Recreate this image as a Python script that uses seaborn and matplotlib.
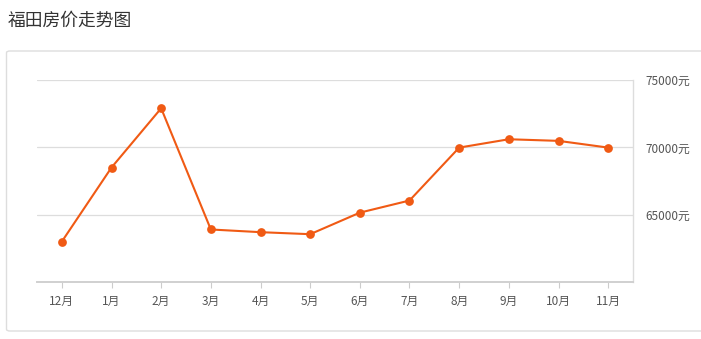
import matplotlib
matplotlib.use("Agg")
import matplotlib.pyplot as plt
import seaborn as sns
import pandas as pd
from matplotlib.patches import FancyBboxPatch

sns.set_theme(style="white")
plt.rcParams['font.family'] = ['Noto Sans CJK SC', 'DejaVu Sans']

months = ["12月", "1月", "2月", "3月", "4月", "5月", "6月", "7月", "8月", "9月", "10月", "11月"]
prices = [63000, 68500, 72900, 63900, 63700, 63550, 65150, 66050, 69980, 70600, 70480, 69980]
y_ticks = [65000, 70000, 75000]
y_tick_labels = ["65000元", "70000元", "75000元"]
title = "福田房价走势图"

df = pd.DataFrame({"month": months, "price": prices})

W, H = 701, 339
fig = plt.figure(figsize=(W / 100, H / 100), dpi=100)

# outer panel box
box = FancyBboxPatch((6.5 / W, (H - 331) / H), (W + 10) / W, (331 - 51) / H,
                     boxstyle="round,pad=0,rounding_size=0.005",
                     transform=fig.transFigure, facecolor="white",
                     edgecolor="#dddddd", linewidth=1.0, zorder=-5)
fig.patches.append(box)

fig.text(8 / W, 1 - 21 / H, title, fontsize=12.8, color="#333333", va="center", ha="left")

left, right, top, bottom = 37, 633, 80, 282
ax = fig.add_axes([left / W, 1 - bottom / H, (right - left) / W, (bottom - top) / H])
ax.set_facecolor("none")
ax.set_zorder(2)

color = "#f05a14"
sns.lineplot(data=df, x="month", y="price", ax=ax, color=color, linewidth=1.5,
             marker="o", markersize=6.3, markeredgewidth=0, sort=False)

ax.set_xlim(-0.5, len(months) - 0.5)
ax.set_ylim(60000, 75000)
ax.yaxis.tick_right()
ax.set_yticks(y_ticks)
ax.set_yticklabels(y_tick_labels)
for y in y_ticks:
    ax.axhline(y, color="#dddddd", linewidth=0.9, zorder=0)

ax.set_xlabel("")
ax.set_ylabel("")
for s in ["top", "left"]:
    ax.spines[s].set_visible(False)
ax.spines["right"].set_color("#dddddd")
ax.spines["right"].set_linewidth(1.0)
ax.spines["bottom"].set_color("#d0d0d0")
ax.spines["bottom"].set_linewidth(1.4)

ax.tick_params(axis="x", which="both", length=4, width=0.8, color="#cccccc",
               labelsize=8.5, labelcolor="#555555", pad=5, bottom=True)
ax.tick_params(axis="y", which="both", length=0, labelsize=8.5, labelcolor="#555555", pad=9, right=False)

fig.savefig("out.png", dpi=100)
